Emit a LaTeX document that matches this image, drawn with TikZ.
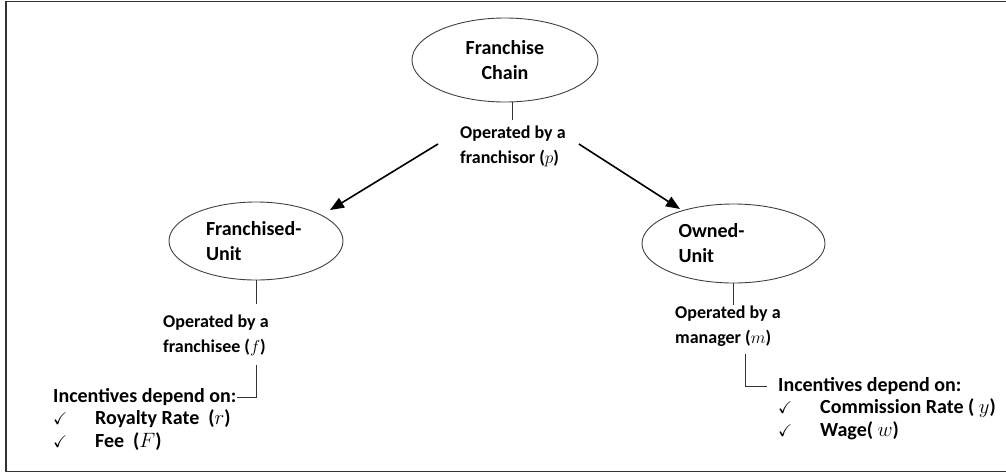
\documentclass[tikz,border=0pt]{standalone}
\usepackage{fontspec}
\setmainfont{Carlito}
\usepackage{amssymb}
\usetikzlibrary{arrows.meta,shapes.geometric,positioning,calc}
\newcommand\haken{\makebox[42pt][l]{\fontsize{17}{17}\selectfont$\checkmark$}}

\begin{document}
\begin{tikzpicture}[x=1pt,y=-1pt,
  einheit/.style={draw=black!75,line width=0.9pt,ellipse,inner sep=0pt,font=\fontsize{20}{25}\selectfont\bfseries},
  betrieb/.style={align=left,inner sep=0pt,font=\fontsize{18}{25}\selectfont\bfseries},
  anreiz/.style={align=left,inner sep=0pt,font=\fontsize{20}{23}\selectfont\bfseries},
  pfeil/.style={line width=1.6pt,-{Triangle[length=14pt,width=11pt]}},
  linie/.style={black!80,line width=0.9pt},
  rahmen/.style={black!80,line width=1.5pt}]
\useasboundingbox (0,0) rectangle (1006,474);
%Rahmen, rechts offen
\draw[rahmen] (1006,1.5) -- (6,1.5) -- (6,471.5) -- (1006,471.5);
%Ellipsen
\node[einheit,align=center,minimum width=186pt,minimum height=84pt] (kette) at (505,60) {Franchise\\Chain};
\node[einheit,align=left,text width=100pt,minimum width=174pt,minimum height=78pt] (fu) at (256,241) {Franchised-\\Unit};
\node[einheit,align=left,text width=110pt,minimum width=183pt,minimum height=79pt] (eu) at (733.5,243.5) {Owned-\\Unit};
%Betreiber
\node[betrieb,anchor=west] (opP) at (460,146) {Operated by a\\franchisor ($p$)};
\node[betrieb,anchor=west] (opF) at (163,335) {Operated by a\\franchisee ($f$)};
\node[betrieb,anchor=west] (opE) at (675,326) {Operated by a\\manager ($m$)};
%Anreize
\node[anreiz,anchor=west] (titelF) at (53,397) {Incentives depend on:};
\node[anreiz,below=4pt of titelF.south west,anchor=north west] (listeF) {\haken Royalty Rate~ ($r$)\\\haken Fee~ ($F$)};
\node[anreiz,anchor=west] (titelE) at (778,386) {Incentives depend on:};
\node[anreiz,below=4pt of titelE.south west,anchor=north west] (listeE) {\haken Commission Rate ( $y$)\\\haken Wage( $w$)};
%Verbindungen
\draw[linie] (kette.south -| opP.north) -- ([yshift=5pt]opP.north);
\draw[pfeil] ([xshift=-22pt,yshift=2pt]opP.west) -- ($(fu.center)+(74,-31)$);
\draw[pfeil] ([xshift=13pt,yshift=2pt]opP.east) -- ($(eu.center)+(-53.5,-34.5)$);
\draw[linie] (fu.south) -- ([yshift=10pt]fu.south |- opF.north);
\draw[linie] ([yshift=-9pt]opF.south -| fu.south) |- (titelF.east);
\draw[linie] (eu.south) -- (eu.south |- opE.north);
\draw[linie] ($(opE.south -| titelE.west)+(-33,7)$) |- ([xshift=-11pt]titelE.west);
\end{tikzpicture}
\end{document}
